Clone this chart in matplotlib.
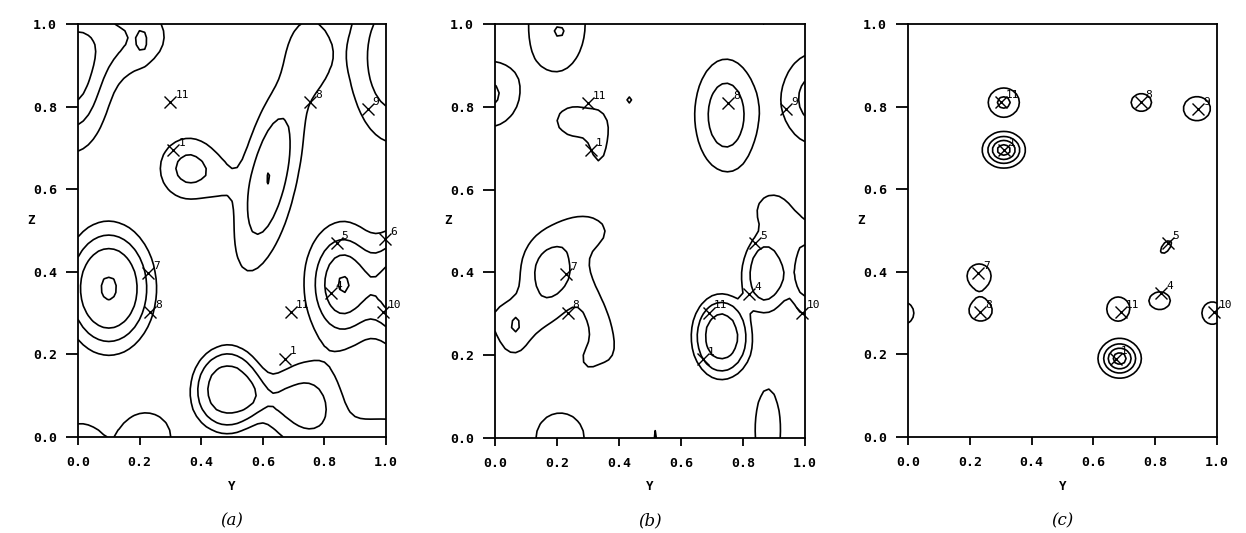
import numpy as np
import matplotlib
matplotlib.use("Agg")
import matplotlib.pyplot as plt

# ---------------- data ----------------
# atoms (Y, Z, label) - same positions in every panel
atom_y = [0.30, 0.31, 0.753, 0.94, 0.84, 0.997, 0.228, 0.234, 0.69, 0.82, 0.99, 0.672]
atom_z = [0.81, 0.695, 0.81, 0.795, 0.47, 0.48, 0.396, 0.303, 0.303, 0.348, 0.303, 0.19]
atom_lbl = ['11', '1', '8', '9', '5', '6', '7', '8', '11', '4', '10', '1']
atoms_shown_a = list(range(12))
atoms_shown_b = [0, 1, 2, 3, 4, 6, 7, 8, 9, 10, 11]
atoms_shown_c = [0, 1, 2, 3, 4, 6, 7, 8, 9, 10, 11]

contour_levels = [1, 2, 3, 4]
tick_vals = [0.0, 0.2, 0.4, 0.6, 0.8, 1.0]
tick_text = ['0.0', '0.2', '0.4', '0.6', '0.8', '1.0']
panel_caps = ['(a)', '(b)', '(c)']

# density peaks: centre Y, centre Z, height, width Y, width Z, tilt (deg), shape exponent
a_py = [0.10, 0.86, 1.10, -0.02, 0.16, 0.21, 1.03, 0.62, 0.36, 0.46, 0.75, 0.485, 0.74, 0.62, 1.0, 0.0, 0.22]
a_pz = [0.36, 0.37, 0.36, 0.88, 0.97, 0.955, 0.92, 0.63, 0.65, 0.62, 0.93, 0.115, 0.08, 0.09, -0.04, -0.02, 0.0]
a_ph = [4.03, 4.08, 4.0, 3.5, 1.8, 0.8, 3.0, 3.02, 2.4, 0.6, 1.5, 3.3, 2.5, 1.0, 2.0, 1.6, 1.5]
a_sy = [0.11, 0.075, 0.11, 0.08, 0.11, 0.012, 0.10, 0.06, 0.07, 0.04, 0.055, 0.095, 0.08, 0.05, 0.14, 0.06, 0.09]
a_sz = [0.115, 0.09, 0.115, 0.12, 0.07, 0.025, 0.14, 0.16, 0.055, 0.04, 0.07, 0.085, 0.07, 0.04, 0.07, 0.05, 0.065]
a_rot = [0, 0, 0, 0, 0, 0, 0, -18, 0, 0, 0, 0, 0, 0, 0, 0, 0]
a_pw = [3, 2, 3, 2, 2, 2, 2, 2, 2, 2, 2, 4, 2, 2, 2, 2, 2]

b_py = [0.20, 0.21, 0.52, 0.865, -0.02, 1.03, 0.433, 0.275, 0.335, 0.745, 0.18, 0.30, 0.34, 0.06, 0.065,
        0.06, 0.30, 0.73, 0.87, 1.0, 0.90, 0.21, 0.52, 0.88]
b_pz = [1.0, 0.977, 1.005, 1.005, 0.83, 0.82, 0.817, 0.76, 0.705, 0.78, 0.40, 0.50, 0.28, 0.29, 0.272,
        0.22, 0.19, 0.245, 0.39, 0.40, 0.54, 0.0, 0.0, 0.02]
b_ph = [1.9, 0.35, 1.1, 1.1, 2.2, 2.5, 1.6, 1.35, 1.25, 2.8, 2.6, 1.3, 1.4, 1.3, 0.9,
        0.9, 1.0, 3.3, 2.3, 2.8, 1.3, 1.45, 1.2, 1.4]
b_sy = [0.08, 0.015, 0.012, 0.015, 0.072, 0.075, 0.006, 0.08, 0.022, 0.07, 0.07, 0.07, 0.035, 0.08, 0.01,
        0.05, 0.04, 0.078, 0.065, 0.035, 0.07, 0.09, 0.01, 0.05]
b_sz = [0.1, 0.01, 0.012, 0.01, 0.062, 0.08, 0.006, 0.04, 0.045, 0.094, 0.07, 0.04, 0.09, 0.04, 0.012,
        0.04, 0.04, 0.083, 0.075, 0.07, 0.06, 0.07, 0.035, 0.12]
b_rot = [0, 0, 0, 0, 0, 0, 0, 0, 0, 0, 0, 0, 25, 0, 0,
         0, 0, 0, 0, 0, 0, 0, 0, 0]
b_pw = [2, 2, 2, 2, 2, 2, 2, 2, 2, 2, 2, 2, 2, 2, 2,
        2, 2, 4, 4, 2, 2, 2, 2, 2]

c_py = [0.31, 0.31, 0.755, 0.935, 0.835, 0.23, 0.235, 0.68, 0.815, 0.985, -0.015, 0.685]
c_pz = [0.81, 0.695, 0.81, 0.795, 0.46, 0.39, 0.305, 0.31, 0.33, 0.30, 0.30, 0.19]
c_ph = [2.3, 4.6, 1.6, 1.6, 1.3, 1.6, 1.6, 1.6, 1.6, 1.6, 1.6, 4.6]
c_sy = [0.039, 0.04, 0.034, 0.045, 0.015, 0.04, 0.038, 0.038, 0.035, 0.035, 0.035, 0.04]
c_sz = [0.027, 0.025, 0.022, 0.03, 0.03, 0.03, 0.025, 0.03, 0.022, 0.028, 0.028, 0.027]
c_rot = [0, 0, 0, 0, -50, 0, 0, 0, 0, 0, 0, 0]
c_pw = [2, 2, 2, 2, 2, 2, 2, 2, 2, 2, 2, 2]


def density(Y, Z, py, pz, ph, sy, sz, rot, pw):
    F = np.zeros_like(Y)
    for y0, z0, h, s1, s2, r, p in zip(py, pz, ph, sy, sz, rot, pw):
        t = np.deg2rad(r)
        dy, dz = Y - y0, Z - z0
        u = dy * np.cos(t) + dz * np.sin(t)
        v = -dy * np.sin(t) + dz * np.cos(t)
        d2 = (u / s1) ** 2 + (v / s2) ** 2
        F += h * np.exp(-0.5 * d2 ** (p / 2.0))
    return F


plt.rcParams['font.family'] = ['DejaVu Sans Mono', 'DejaVu Sans']

W, H = 1246, 533
fig = plt.figure(figsize=(W / 100, H / 100), dpi=100)

# axes boxes in pixels: left, top, right, bottom
boxes = [(78, 24, 386, 437), (495, 24, 805, 438), (908, 24, 1217, 437)]

# coarse map grid, like the original plotter output
grid_n = [61, 61, 101]

panels = [
    (a_py, a_pz, a_ph, a_sy, a_sz, a_rot, a_pw, atoms_shown_a),
    (b_py, b_pz, b_ph, b_sy, b_sz, b_rot, b_pw, atoms_shown_b),
    (c_py, c_pz, c_ph, c_sy, c_sz, c_rot, c_pw, atoms_shown_c),
]

for k, (box, pan) in enumerate(zip(boxes, panels)):
    l, t, r, b = box
    ax = fig.add_axes([l / W, (H - b) / H, (r - l) / W, (b - t) / H])
    grid = np.linspace(0, 1, grid_n[k])
    Yg, Zg = np.meshgrid(grid, grid)
    py, pz, ph, sy, sz, rot, pw, shown = pan
    F = density(Yg, Zg, py, pz, ph, sy, sz, rot, pw)
    ax.contour(Yg, Zg, F, levels=contour_levels, colors='black', linewidths=1.2)
    for i in shown:
        ax.plot(atom_y[i], atom_z[i], marker='x', color='black', markersize=9, mew=1.0,
                clip_on=False)
        ax.annotate(atom_lbl[i], (atom_y[i], atom_z[i]), xytext=(3.5, 1.5),
                    textcoords='offset points', fontsize=8, ha='left', va='bottom',
                    fontfamily='DejaVu Sans Mono', annotation_clip=False)
    ax.set_xlim(0, 1)
    ax.set_ylim(0, 1)
    ax.set_xticks(tick_vals)
    ax.set_xticklabels(tick_text)
    ax.set_yticks(tick_vals)
    ax.set_yticklabels(tick_text)
    for sp in ax.spines.values():
        sp.set_linewidth(1.3)
    ax.tick_params(axis='x', direction='out', length=6, width=1.3, pad=8, labelsize=9.5)
    ax.tick_params(axis='y', direction='out', length=9, width=1.3, pad=6, labelsize=9.5)
    for lab in ax.get_xticklabels() + ax.get_yticklabels():
        lab.set_fontweight('bold')
    # axis names
    fig.text((l - 47) / W, (H - 220) / H, 'Z', fontsize=9, fontweight='bold',
             ha='center', va='center')
    cx = (l + r) / 2
    fig.text(cx / W, (H - 487) / H, 'Y', fontsize=9, fontweight='bold',
             ha='center', va='center')
    fig.text(cx / W, (H - 521) / H, panel_caps[k], fontsize=12, style='italic',
             family=['DejaVu Serif'], ha='center', va='center')

fig.savefig('out.png', dpi=100)
